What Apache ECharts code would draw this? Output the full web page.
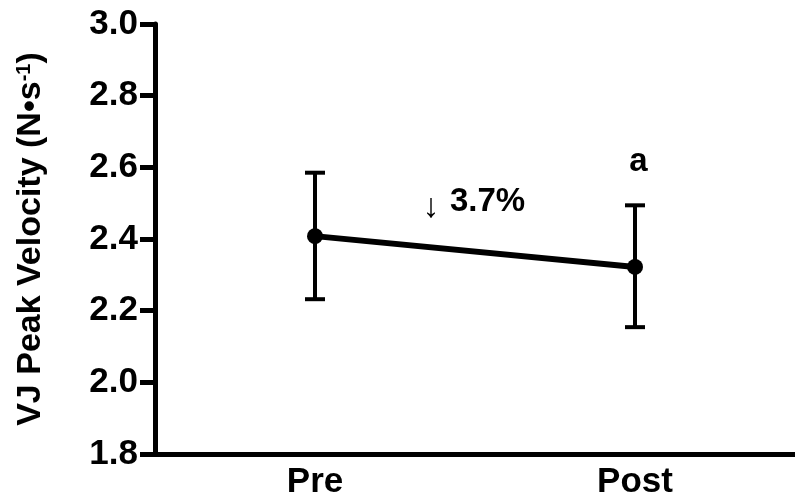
<!DOCTYPE html>
<html>
<head>
<meta charset="utf-8">
<script src="https://cdn.jsdelivr.net/npm/echarts@6/dist/echarts.min.js"></script>
<style>html,body{margin:0;padding:0;background:#fff;}#main{width:795px;height:501px;}</style>
</head>
<body>
<div id="main"></div>
<script>
const categories = ['Pre', 'Post'];
const meanValues = [2.408, 2.322];
const errLow = [2.232, 2.154];
const errHigh = [2.585, 2.494];
const yTicks = [1.8, 2.0, 2.2, 2.4, 2.6, 2.8, 3.0];

const FONT = '"Liberation Sans", Arial, sans-serif';
const chart = echarts.init(document.getElementById('main'));
const errData = categories.map((c, i) => [i, errLow[i], errHigh[i]]);

chart.setOption({
  backgroundColor: '#fff',
  animation: false,
  grid: { left: 155, right: -3, top: 24, bottom: 47, containLabel: false },
  xAxis: {
    type: 'category',
    data: categories,
    boundaryGap: true,
    axisLine: { lineStyle: { color: '#000', width: 5 } },
    axisTick: { show: false },
    axisLabel: { color: '#000', fontFamily: FONT, fontWeight: 'bold', fontSize: 35, margin: 11 },
    splitLine: { show: false }
  },
  yAxis: {
    type: 'value',
    min: yTicks[0],
    max: yTicks[yTicks.length - 1],
    interval: 0.2,
    name: '{a|VJ Peak Velocity (N•s}{b|-1}{a|)}',
    nameLocation: 'middle',
    nameRotate: 90,
    nameGap: 107,
    nameTextStyle: {
      rich: {
        a: { color: '#000', fontFamily: FONT, fontWeight: 'bold', fontSize: 34 },
        b: { color: '#000', fontFamily: FONT, fontWeight: 'bold', fontSize: 20, verticalAlign: 'top', padding: [0, 0, 14, 0] }
      }
    },
    axisLine: { show: true, lineStyle: { color: '#000', width: 5 } },
    axisTick: { show: true, length: 15, lineStyle: { color: '#000', width: 5 } },
    axisLabel: { color: '#000', fontFamily: FONT, fontWeight: 'bold', fontSize: 35, margin: 17,
      formatter: v => v.toFixed(1) },
    splitLine: { show: false }
  },
  series: [
    {
      type: 'custom',
      data: errData,
      z: 3,
      renderItem: function (params, api) {
        const x = api.value(0);
        const lo = api.coord([x, api.value(1)]);
        const hi = api.coord([x, api.value(2)]);
        const hw = 10;
        const style = { stroke: '#000', lineWidth: 4 };
        return {
          type: 'group',
          children: [
            { type: 'line', shape: { x1: lo[0], y1: lo[1], x2: hi[0], y2: hi[1] }, style: style },
            { type: 'line', shape: { x1: lo[0] - hw, y1: lo[1], x2: lo[0] + hw, y2: lo[1] }, style: style },
            { type: 'line', shape: { x1: hi[0] - hw, y1: hi[1], x2: hi[0] + hw, y2: hi[1] }, style: style }
          ]
        };
      }
    },
    {
      type: 'line',
      data: meanValues,
      z: 4,
      symbol: 'circle',
      symbolSize: 16,
      lineStyle: { color: '#000', width: 6 },
      itemStyle: { color: '#000' }
    }
  ],
  graphic: [
    { type: 'text', style: { x: 431, y: 208, text: '↓', fill: '#000', font: '34px ' + FONT, textAlign: 'center', textVerticalAlign: 'middle' } },
    { type: 'text', style: { x: 450, y: 202, text: '3.7%', fill: '#000', font: 'bold 33px ' + FONT, textAlign: 'left', textVerticalAlign: 'middle' } },
    { type: 'text', style: { x: 638.5, y: 162, text: 'a', fill: '#000', font: 'bold 33px ' + FONT, textAlign: 'center', textVerticalAlign: 'middle' } }
  ]
});
</script>
</body>
</html>
